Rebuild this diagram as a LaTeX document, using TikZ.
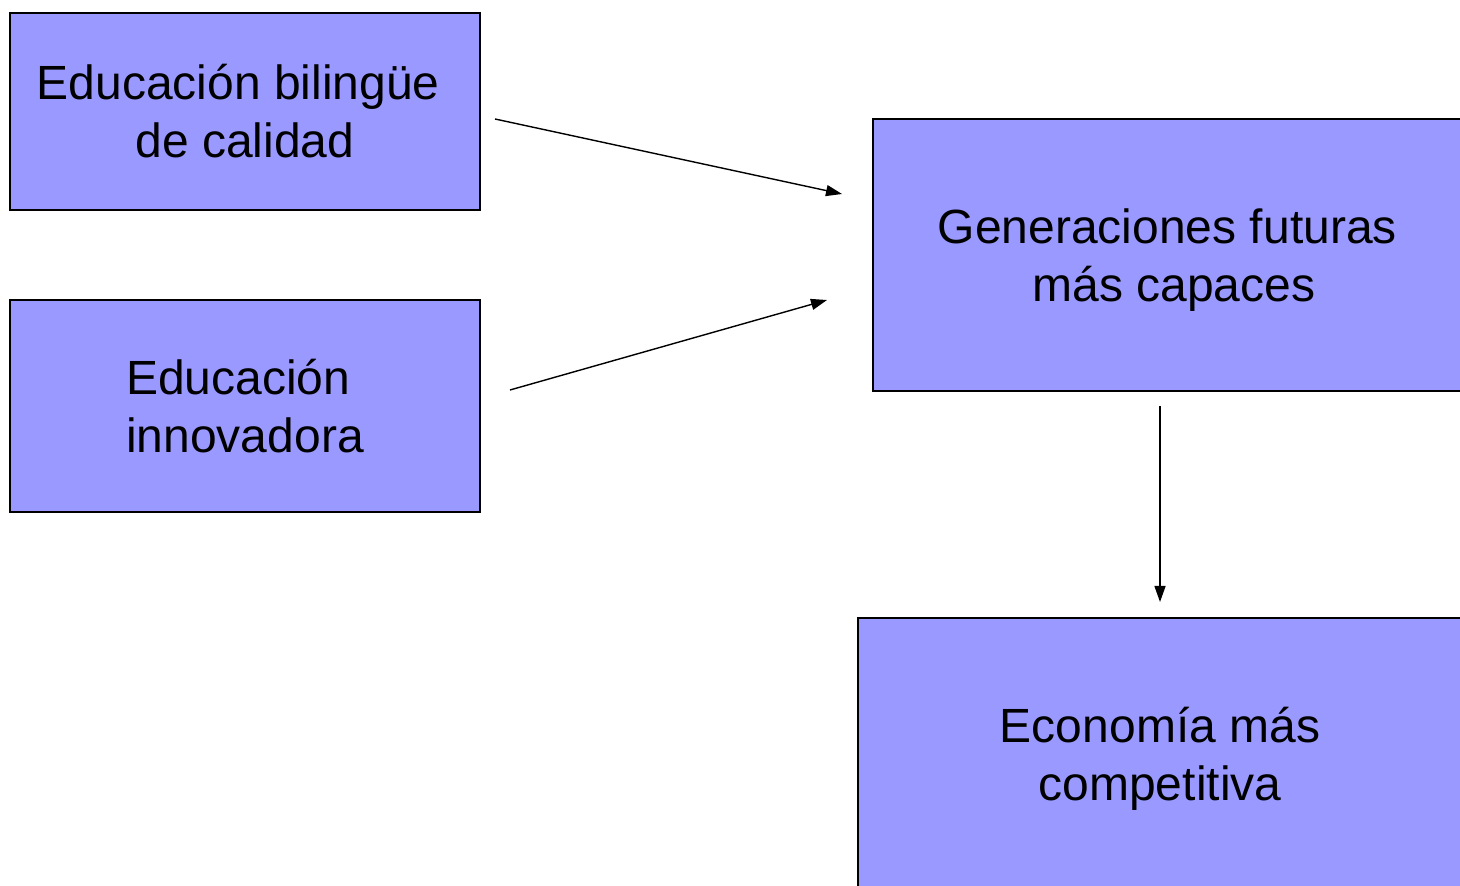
\documentclass[tikz,border=0pt]{standalone}
\usepackage{fontspec}
\setmainfont{Liberation Sans}
\usetikzlibrary{arrows.meta}
\definecolor{boxfill}{HTML}{9999FF}
\newcommand{\tsp}{\hspace*{0.278em}}
\begin{document}
\begin{tikzpicture}[x=0.5pt,y=-0.5pt,
  box/.style={draw=black,fill=boxfill,line width=1pt,inner sep=0pt,
    font=\fontsize{24pt}{29pt}\selectfont,align=center},
  arr/.style={line width=0.7pt,-{Triangle[length=8pt,width=5.5pt]}}]
\clip (0,0) rectangle (1460,886);
\useasboundingbox (0,0) rectangle (1460,886);
\node[box,minimum width=235pt,minimum height=98.5pt] (a) at (245,111.5) {Educación bilingüe\tsp\\de calidad};
\node[box,minimum width=235pt,minimum height=106pt] (b) at (245,406) {Educación\tsp\\innovadora};
\node[box,minimum width=301pt,minimum height=136pt,text depth=-0.5pt] (c) at (1174,255) {Generaciones futuras\tsp\\más capaces};
\node[box,minimum width=302pt,minimum height=139pt,text depth=3pt] (d) at (1160,757) {Economía más\\competitiva};
\coordinate (a1) at (495,119);
\coordinate (a2) at (842,194);
\coordinate (b1) at (510,390);
\coordinate (b2) at (827,300);
\coordinate (c1) at (1160,406);
\coordinate (c2) at (1160,602);
\draw[arr] (a1) -- (a2);
\draw[arr] (b1) -- (b2);
\draw[arr] (c1) -- (c2);
\end{tikzpicture}
\end{document}
